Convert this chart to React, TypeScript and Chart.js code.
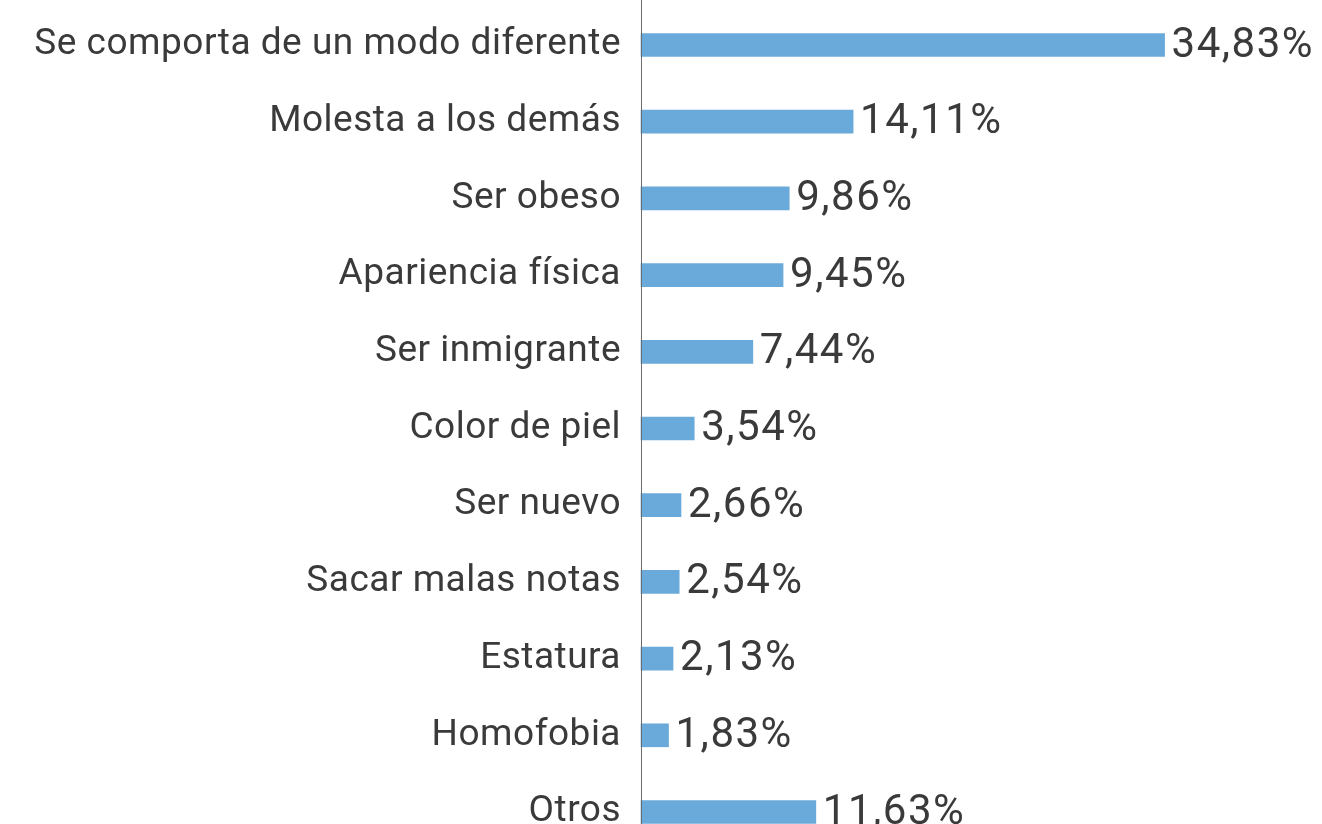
import React, { useEffect, useRef } from "react";
import { Chart, registerables } from "chart.js";

Chart.register(...registerables);

const categories: string[] = [
  "Se comporta de un modo diferente",
  "Molesta a los demás",
  "Ser obeso",
  "Apariencia física",
  "Ser inmigrante",
  "Color de piel",
  "Ser nuevo",
  "Sacar malas notas",
  "Estatura",
  "Homofobia",
  "Otros",
];

const values: number[] = [34.83, 14.11, 9.86, 9.45, 7.44, 3.54, 2.66, 2.54, 2.13, 1.83, 11.63];

const valueLabels: string[] = [
  "34,83%",
  "14,11%",
  "9,86%",
  "9,45%",
  "7,44%",
  "3,54%",
  "2,66%",
  "2,54%",
  "2,13%",
  "1,83%",
  "11,63%",
];

const FONT = "Roboto, 'Noto Sans', sans-serif";
const TEXT_COLOR = "#3a3a3a";
const BAR_COLOR = "#6aaada";

const letterSpacingPlugin = {
  id: "letterSpacing",
  beforeDraw(chart: any) {
    (chart.ctx as any).letterSpacing = "0.5px";
  },
};

const valueLabelPlugin = {
  id: "valueLabels",
  afterDatasetsDraw(chart: any) {
    const ctx = chart.ctx;
    const meta = chart.getDatasetMeta(0);
    ctx.save();
    (ctx as any).letterSpacing = "1.5px";
    ctx.font = `400 42px ${FONT}`;
    ctx.fillStyle = TEXT_COLOR;
    ctx.textAlign = "left";
    ctx.textBaseline = "middle";
    meta.data.forEach((bar: any, i: number) => {
      ctx.fillText(valueLabels[i], bar.x + 7, bar.y + 1);
    });
    ctx.restore();
  },
};

const axisLinePlugin = {
  id: "axisLine",
  afterDraw(chart: any) {
    const ctx = chart.ctx;
    const x = Math.round(chart.scales.x.getPixelForValue(0)) + 0.5;
    ctx.save();
    ctx.strokeStyle = "#6b6b6b";
    ctx.lineWidth = 1;
    ctx.beginPath();
    ctx.moveTo(x, 0);
    ctx.lineTo(x, chart.height);
    ctx.stroke();
    ctx.restore();
  },
};

export default function App() {
  const canvasRef = useRef<HTMLCanvasElement | null>(null);

  useEffect(() => {
    if (!canvasRef.current) return;
    const chart = new Chart(canvasRef.current, {
      type: "bar",
      data: {
        labels: categories,
        datasets: [
          {
            data: values,
            backgroundColor: BAR_COLOR,
            borderWidth: 0,
            barThickness: 23,
            clip: false as any,
          },
        ],
      },
      options: {
        indexAxis: "y",
        animation: false,
        responsive: true,
        maintainAspectRatio: false,
        layout: { autoPadding: false, padding: { top: 45, bottom: 12, left: 0, right: 0 } },
        plugins: {
          legend: { display: false },
          tooltip: { enabled: false },
        },
        scales: {
          x: {
            display: false,
            min: 0,
            max: 45.3,
          },
          y: {
            offset: false,
            grid: { display: false, drawTicks: false },
            border: { display: false },
            ticks: {
              padding: 20,
              color: TEXT_COLOR,
              font: { family: FONT, size: 37 },
              autoSkip: false,
            },
            afterFit(scale: any) {
              scale.width = 641;
              scale.paddingTop = 0;
              scale.paddingBottom = 0;
            },
          },
        },
      },
      plugins: [letterSpacingPlugin, valueLabelPlugin, axisLinePlugin],
    });
    return () => chart.destroy();
  }, []);

  return (
    <div style={{ position: "fixed", left: 0, top: 0, width: 1322, height: 824, background: "#fff" }}>
      <canvas ref={canvasRef} />
    </div>
  );
}
